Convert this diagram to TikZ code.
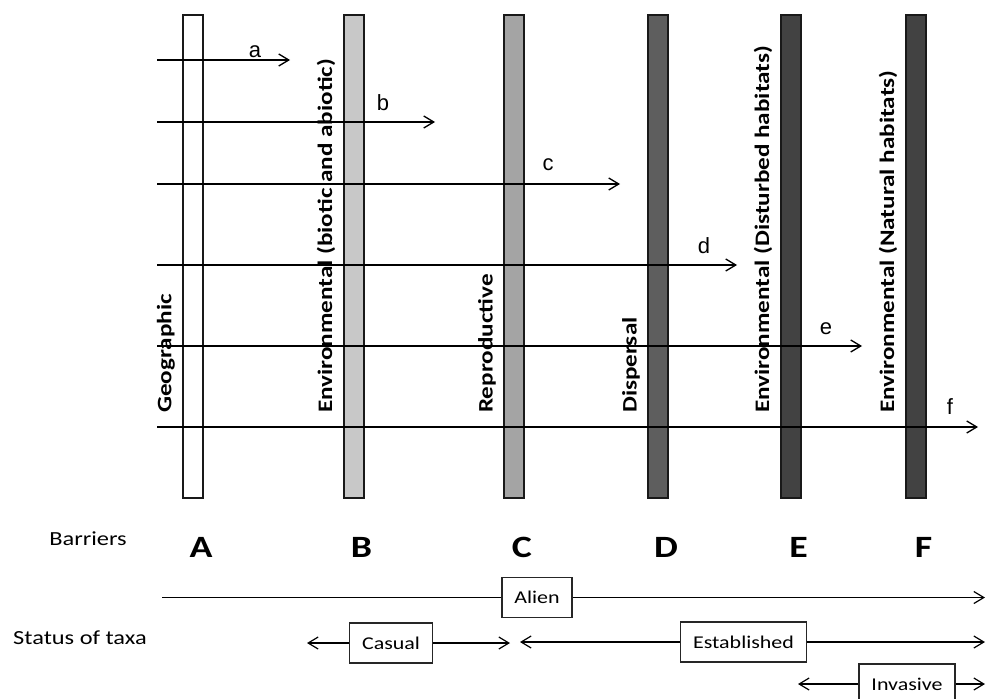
\documentclass[tikz,border=0pt]{standalone}
\usepackage{fontspec}
\setmainfont{Carlito}
\newfontfamily\arialfont{Liberation Sans}
\usepackage{graphicx}
\usetikzlibrary{positioning,calc,arrows.meta}
\definecolor{barB}{HTML}{C8C8C8}
\definecolor{barC}{HTML}{A4A4A4}
\definecolor{barD}{HTML}{5E5E5E}
\definecolor{barE}{HTML}{424242}
\definecolor{barF}{HTML}{424242}
\newcommand{\widen}[1]{\scalebox{1.22}[1]{#1}}

\begin{document}
\begin{tikzpicture}[x=1pt,y=-1pt,>={Straight Barb[length=10pt,width=12pt]},
      bar/.style={draw=black!90,line width=2pt,minimum width=20pt,minimum height=483pt,inner sep=0pt},
      barlbl/.style={rotate=90,anchor=south west,inner sep=0pt,font=\fontsize{20.6}{24}\selectfont\bfseries},
      barletter/.style={font=\fontsize{31}{36}\selectfont\bfseries},
      flow/.style={->,line width=1.3pt},
      flowlbl/.style={anchor=base,inner sep=0pt,font=\arialfont\fontsize{22}{26}\selectfont},
      status/.style={draw=black!85,line width=1.4pt,fill=white,minimum height=40pt,inner xsep=12.5pt,
                     font=\fontsize{18}{22}\selectfont},
      link/.style={line width=1.2pt}]
    \clip (0,0) rectangle (986,699);
    % barriers
    \node[bar,fill=white] (barA) at (193,256.5) {};
    \node[bar,fill=barB] (barB) at (353.5,256.5) {};
    \node[bar,fill=barC] (barC) at (514,256.5) {};
    \node[bar,fill=barD] (barD) at (658,256.5) {};
    \node[bar,fill=barE] (barE) at (790.5,256.5) {};
    \node[bar,fill=barF] (barF) at (915.5,256.5) {};
    \foreach \b/\txt in {A/Geographic,B/{Environmental (biotic and abiotic)},C/Reproductive,
                         D/Dispersal,E/{Environmental (Disturbed habitats)},F/{Environmental (Natural habitats)}}{
      \node[barlbl] (name\b) at ($(bar\b.south west)+(-7,-86)$) {\widen{\txt}};
      \node[barletter] (let\b) at ($(bar\b.south)+(8,48)$) {\widen{\b}};
    }
    % pathways a--f
    \foreach \n/\y/\xe/\xl/\dy in {a/60/290/255/3,b/122/435/383/12,c/184/620/548/14,
                                   d/265/737/704/12,e/346/862/826/12,f/427/978/950/13}{
      \coordinate (\n0) at (157,\y);
      \coordinate (\n1) at (\xe,\y);
      \draw[flow] (\n0) -- (\n1);
      \node[flowlbl] (lbl\n) at (\xl,\y-\dy) {\n};
    }
    % status of taxa
    \node[font=\fontsize{20}{24}\selectfont] (barr) at (88,539) {\widen{Barriers}};
    \node[font=\fontsize{20}{24}\selectfont] (taxa) at (80,638) {\widen{Status of taxa}};
    \node[status] (alien) at (537,597.5) {\widen{Alien}};
    \coordinate (al0) at (162,597.5);
    \coordinate (al1) at (985,597.5);
    \draw[link] (al0) -- (alien);
    \draw[link,->] (alien) -- (al1);
    \node[status] (casual) at (391,643) {\widen{Casual}};
    \coordinate (ca0) at (307,643);
    \coordinate (ca1) at (510,643);
    \draw[link,->] (casual) -- (ca0);
    \draw[link,->] (casual) -- (ca1);
    \node[status] (estab) at (743.5,642) {\widen{Established}};
    \coordinate (es0) at (520,642);
    \coordinate (es1) at (985,642);
    \draw[link,->] (estab) -- (es0);
    \draw[link,->] (estab) -- (es1);
    \node[status] (invas) at (907,684) {\widen{Invasive}};
    \coordinate (in0) at (798,684);
    \coordinate (in1) at (985,684);
    \draw[link,->] (invas) -- (in0);
    \draw[link,->] (invas) -- (in1);
  \end{tikzpicture}
\end{document}
